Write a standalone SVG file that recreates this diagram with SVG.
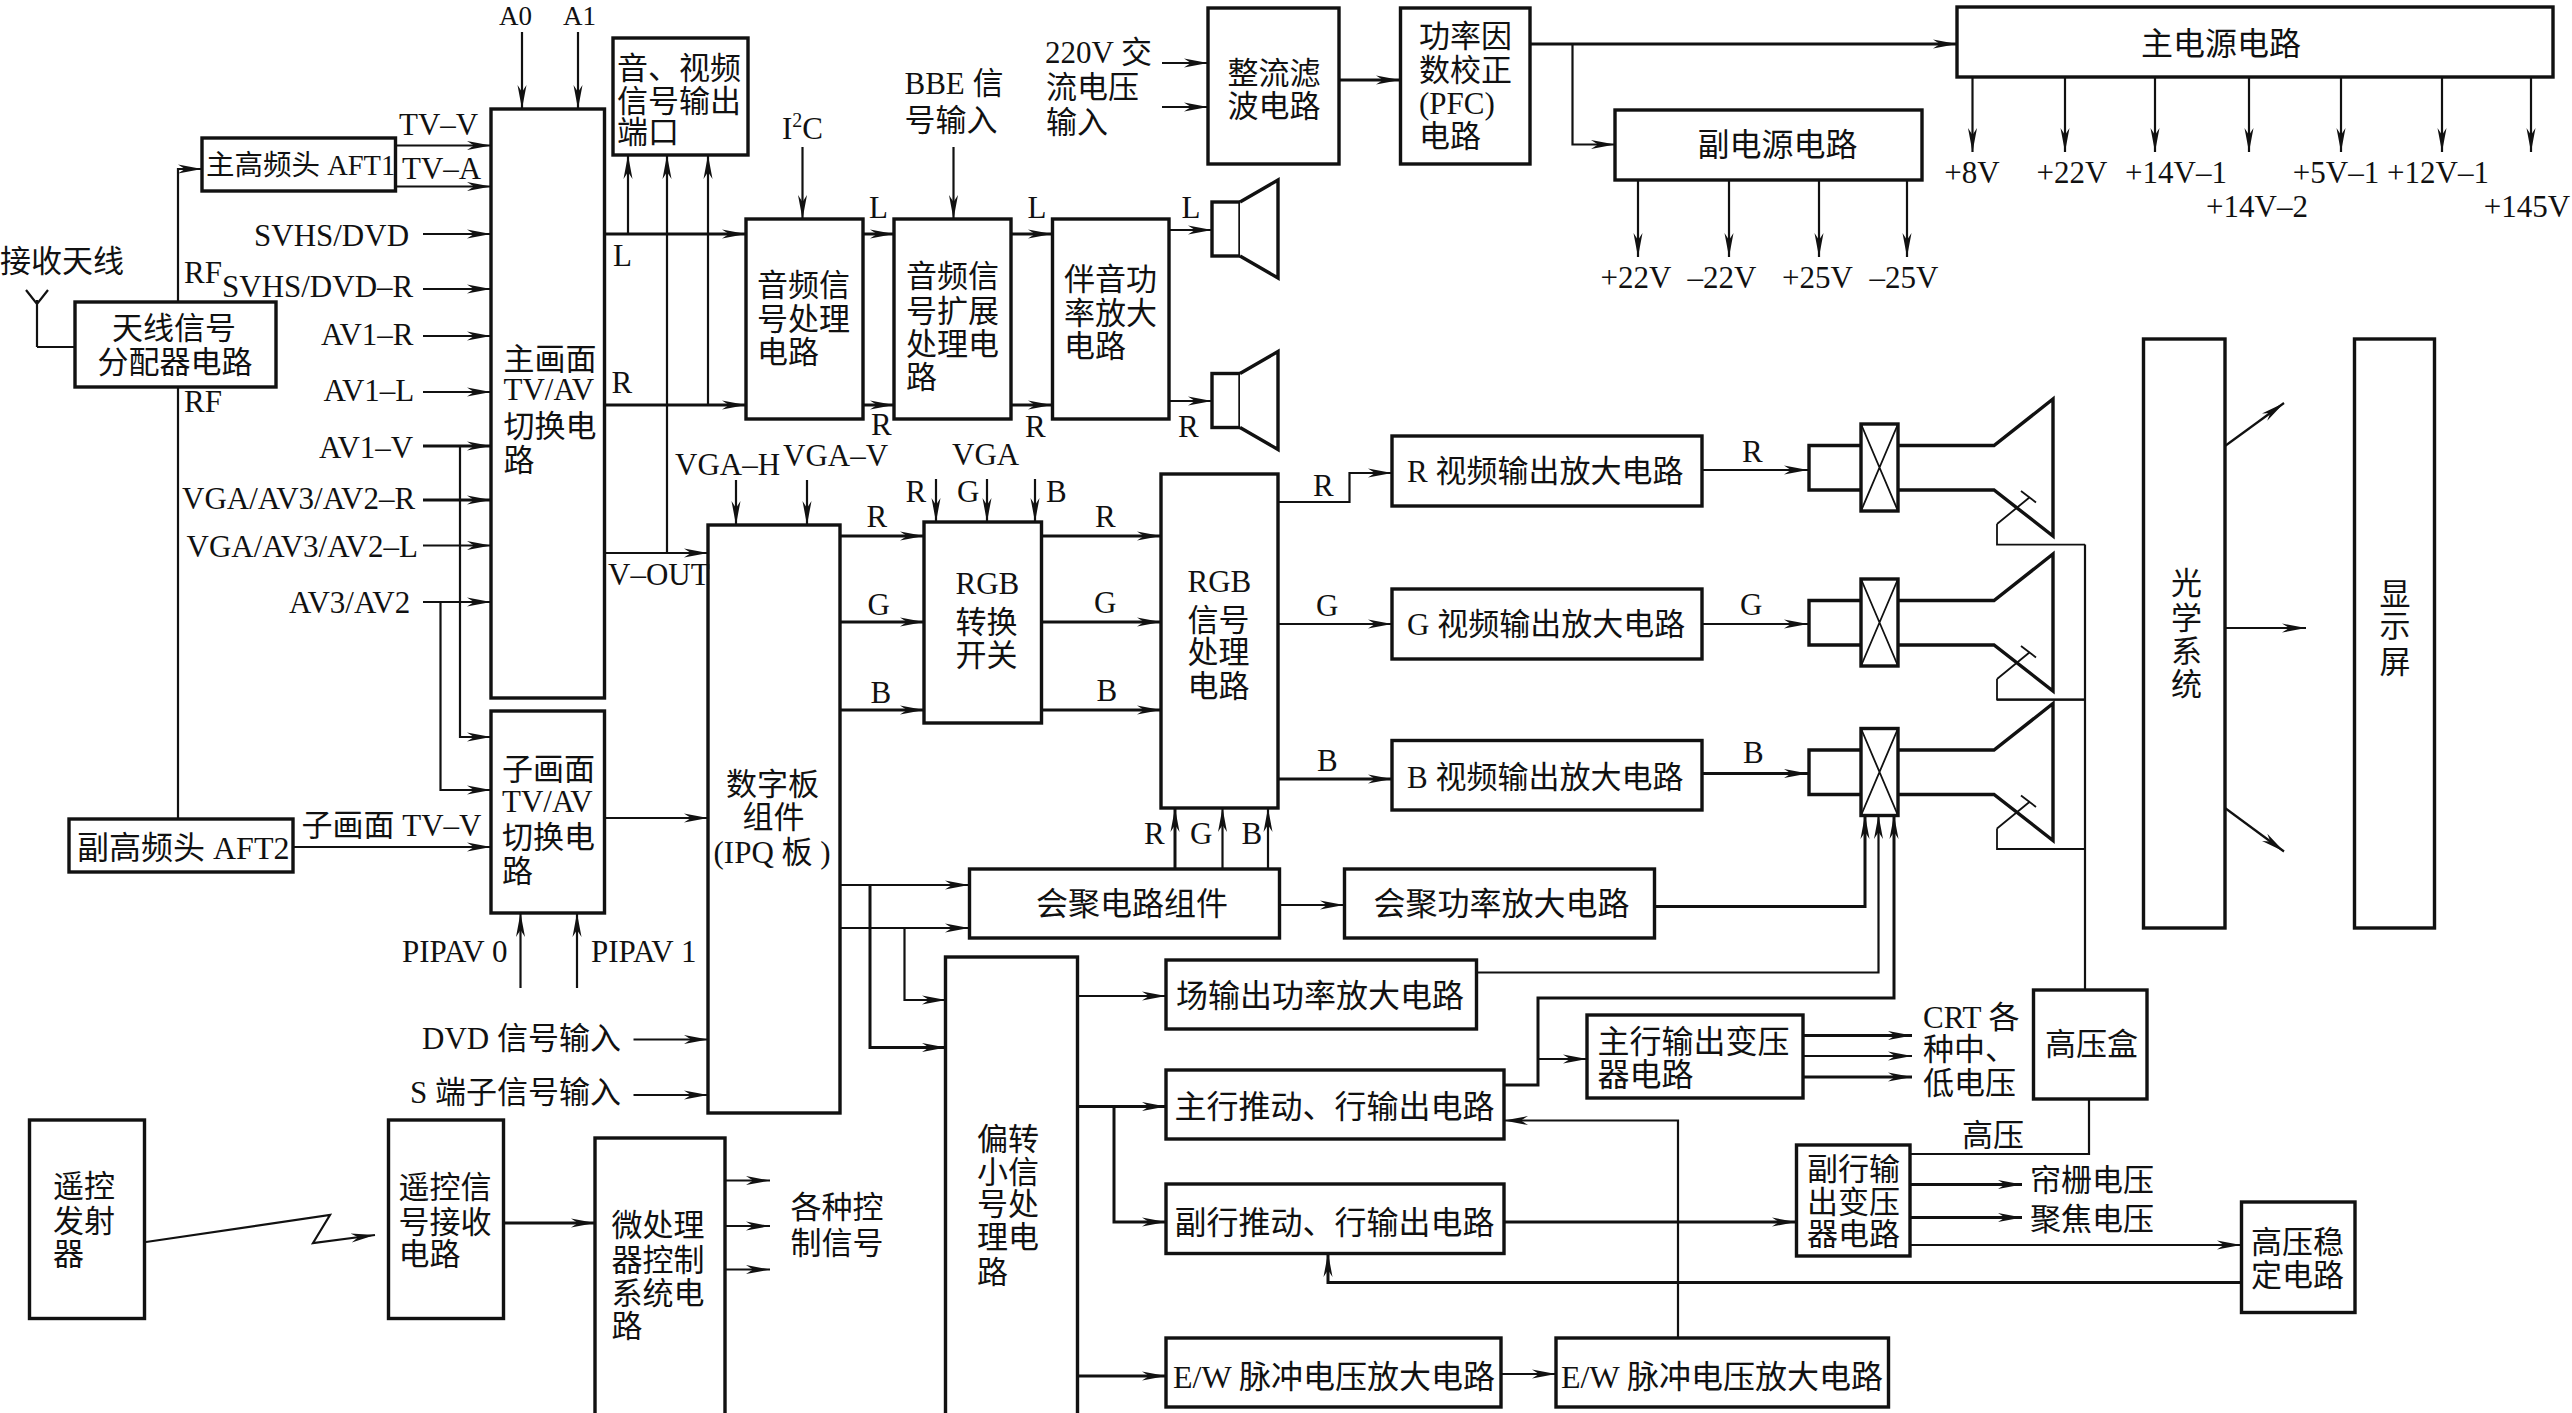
<svg xmlns="http://www.w3.org/2000/svg" width="2572" height="1413" viewBox="0 0 2572 1413">
<style>
text{font-family:"Liberation Serif","Noto Sans CJK SC",serif;font-size:31px;fill:#111}
.s{font-size:28.5px}
.b{font-size:32px}
.m{font-size:27px}
rect{fill:#fff;stroke:#111;stroke-width:3.4}
.c path{fill:none;stroke:#111;stroke-width:2.2}
.c path.a{marker-end:url(#ah)}
.c path.k{stroke-width:3}
.sym{fill:#fff;stroke:#111;stroke-width:3.4}
.thin{fill:none;stroke:#111;stroke-width:1.8}
</style>
<defs>
<marker id="ah" markerUnits="userSpaceOnUse" markerWidth="26" markerHeight="12" refX="24" refY="6" orient="auto"><path d="M0,1.5 L24,6 L0,10.5 L7,6 Z" fill="#111"/></marker>
<g id="crt">
<path class="thin" d="M1997,524 L2030,497 M2021,491 L2036,502.5 M1997,524 V544.6 H2085"/>
<path fill="none" stroke="#111" stroke-width="3.4" d="M1861,445.5 H1809 V490 H1861 M1898,445.5 H1994 L2053,399 V536 L1994,490 H1898"/>
<rect x="1861" y="424" width="37" height="87"/>
<path class="thin" d="M1861,424 L1898,511 M1898,424 L1861,511"/>
</g>
<g id="spk"><rect x="1212" y="202" width="28" height="54"/><path class="sym" d="M1240,202 L1278,180 V278 L1240,256"/></g>
</defs>
<rect width="2572" height="1413" style="fill:#fff;stroke:none"/>
<g id="connectors" class="c">
<path class="l" d="M37,347 V300 M26,290 L37,304 L48,290 M37,347 H75"/>
<path class="a" d="M178,819 V169 H202"/>
<path class="a" d="M396,145.5 H491"/><path class="a" d="M396,186.5 H491"/>
<path class="a" d="M423,234 H491"/><path class="a" d="M423,289 H491"/><path class="a" d="M423,336 H491"/><path class="a" d="M423,392 H491"/><path class="a k" d="M423,446 H491"/><path class="a k" d="M423,500 H491"/><path class="a" d="M423,545.5 H491"/><path class="a" d="M423,602 H491"/>
<path class="a" d="M460,446 V737 H491"/><path class="a" d="M440.5,602 V790 H491"/>
<path class="a" d="M522,32 V109"/><path class="a" d="M578,32 V109"/>
<path class="a k" d="M605,234 H746"/><path class="a k" d="M605,405 H746"/>
<path class="a" d="M628,234 V155"/><path class="a" d="M708,405 V155"/>
<path class="a" d="M667,553 V155"/><path class="a" d="M605,553 H708"/>
<path class="a" d="M802.5,147 V219"/><path class="a" d="M953.5,147 V219"/>
<path class="a k" d="M863,234 H894"/><path class="a k" d="M863,405 H894"/><path class="a k" d="M1011,234 H1052"/><path class="a k" d="M1011,405 H1052"/>
<path class="a" d="M1169,230 H1212"/><path class="a" d="M1169,401 H1212"/>
<path class="a" d="M1162,63 H1208"/><path class="a" d="M1162,107 H1208"/>
<path class="a k" d="M1339,80 H1400"/>
<path class="a k" d="M1530,44 H1957"/><path class="a" d="M1572.5,44 V144.5 H1615"/>
<path class="a" d="M1972.5,77 V152"/><path class="a" d="M2065,77 V152"/><path class="a" d="M2155,77 V152"/><path class="a" d="M2249,77 V152"/><path class="a" d="M2341,77 V152"/><path class="a" d="M2442,77 V152"/><path class="a" d="M2531,77 V152"/>
<path class="a" d="M1638,180 V257"/><path class="a" d="M1729,180 V257"/><path class="a" d="M1819,180 V257"/><path class="a" d="M1907,180 V257"/>
<path class="a" d="M736,480 V525"/><path class="a" d="M807,480 V525"/>
<path class="a" d="M936,479 V522"/><path class="a" d="M987,479 V522"/><path class="a" d="M1035,479 V522"/>
<path class="a k" d="M840,536 H924"/><path class="a k" d="M840,622 H924"/><path class="a k" d="M840,710 H924"/>
<path class="a k" d="M1042,536 H1161"/><path class="a k" d="M1042,622 H1161"/><path class="a k" d="M1042,710 H1161"/>
<path class="a" d="M1278,502 H1349.5 V473 H1392"/><path class="a" d="M1278,624 H1392"/><path class="a k" d="M1278,779 H1392"/>
<path class="a" d="M1702,470 H1808"/><path class="a" d="M1702,624 H1808"/><path class="a k" d="M1702,773.5 H1808"/>
<path class="a k" d="M1175,869 V808"/><path class="a" d="M1222.5,869 V808"/><path class="a" d="M1268,869 V808"/>
<path class="a" d="M605,818 H708"/><path class="a" d="M293,847 H491"/>
<path class="a" d="M520.5,988 V913"/><path class="a" d="M577,988 V913"/>
<path class="a" d="M633.5,1039.5 H708"/><path class="a" d="M633.5,1095 H708"/>
<path class="a" d="M840,885 H969"/><path class="a" d="M840,928 H969"/>
<path class="a k" d="M870,885 V1047.5 H946"/><path class="a" d="M904.5,928 V1000 H946"/>
<path class="a" d="M1280,905 H1344"/>
<path class="k a" d="M1655,906.5 H1865 V815"/>
<path class="a" d="M1476.5,972.5 H1878.5 V815"/>
<path class="k a" d="M1504,1085 H1538 V998 H1894 V815"/>
<path class="a" d="M1538,1059 H1587"/>
<path class="a" d="M1078,996 H1166"/>
<path class="a k" d="M1078,1106.5 H1166"/><path class="a k" d="M1114,1106.5 V1222 H1166"/>
<path class="a k" d="M1078,1376 H1166"/><path class="a" d="M1501,1374 H1556"/>
<path class="a" d="M1678,1338 V1120.5 H1504"/>
<path class="a k" d="M1504,1222 H1796"/>
<path class="a k" d="M1803,1035.5 H1912"/><path class="a" d="M1803,1056 H1912"/><path class="a k" d="M1803,1077 H1912"/>
<path class="l" d="M2085,544.6 V990"/><path class="l" d="M2085,699.6 H1997"/><path class="l" d="M2085,849 H1997"/>
<path class="l" d="M2089,1099 V1154 H1910"/>
<path class="a k" d="M1910,1184.5 H2022"/><path class="a k" d="M1910,1217.5 H2022"/>
<path class="a" d="M1910,1245 H2241"/>
<path class="a k" d="M2241,1282.5 H1328 V1253"/>
<path class="a" d="M146,1242 L330,1215 L313,1243 L375,1235"/>
<path class="a k" d="M504,1223 H595"/>
<path class="a" d="M725,1180.5 H770"/><path class="a" d="M725,1226 H770"/><path class="a" d="M725,1269.5 H770"/>
<path class="a" d="M2225,446 L2284,403"/><path class="a" d="M2225,628 H2306"/><path class="a" d="M2225,808 L2284,851.5"/>
</g>
<g id="n-antenna"><rect x="75" y="302" width="201" height="85"/><text x="112" y="339">天线信号</text><text x="97.5" y="373">分配器电路</text></g>
<g id="n-tuner1"><rect x="202" y="138" width="193.5" height="53"/><text class="s" x="206" y="175">主高频头 AFT1</text></g>
<g id="n-tuner2"><rect x="69" y="819" width="224" height="53"/><text class="b" x="77" y="858.5">副高频头 AFT2</text></g>
<g id="n-main-switch"><rect x="491" y="109" width="113.5" height="589"/><text x="503.5" y="369.5">主画面</text><text x="503.5" y="399.5">TV/AV</text><text x="503.5" y="436.5">切换电</text><text x="503.5" y="471">路</text></g>
<g id="n-sub-switch"><rect x="491" y="711" width="113.5" height="202"/><text x="502" y="780">子画面</text><text x="502" y="811.5">TV/AV</text><text x="502" y="848">切换电</text><text x="502" y="882">路</text></g>
<g id="n-av-out"><rect x="613" y="38" width="135" height="117"/><text x="617" y="78.5">音、视频</text><text x="617" y="111.5">信号输出</text><text x="617" y="143">端口</text></g>
<g id="n-audio"><rect x="746" y="219" width="117" height="200"/><text x="757" y="296">音频信</text><text x="757" y="329.5">号处理</text><text x="757" y="362.5">电路</text></g>
<g id="n-audio-ext"><rect x="894" y="219" width="117" height="200"/><text x="906" y="287">音频信</text><text x="906" y="321.5">号扩展</text><text x="906" y="355">处理电</text><text x="906" y="388">路</text></g>
<g id="n-audio-amp"><rect x="1052.5" y="219" width="116.5" height="200"/><text x="1064" y="290">伴音功</text><text x="1064" y="324">率放大</text><text x="1064" y="357">电路</text></g>
<g id="n-spk-l"><use href="#spk"/></g>
<g id="n-spk-r"><use href="#spk" y="171.5"/></g>
<g id="n-rectifier"><rect x="1208" y="8" width="131" height="156"/><text x="1227.5" y="84">整流滤</text><text x="1227.5" y="117">波电路</text></g>
<g id="n-pfc"><rect x="1400.5" y="8" width="129.5" height="156"/><text x="1419" y="46.5">功率因</text><text x="1419" y="81">数校正</text><text x="1419" y="114">(PFC)</text><text x="1419" y="147">电路</text></g>
<g id="n-main-psu"><rect x="1957" y="7" width="596" height="70"/><text class="b" x="2141" y="55">主电源电路</text></g>
<g id="n-sub-psu"><rect x="1615" y="110" width="307" height="70"/><text class="b" x="1697.5" y="155.5">副电源电路</text></g>
<g id="n-digital"><rect x="708" y="525" width="132" height="588"/><text x="726" y="795">数字板</text><text x="742.5" y="828">组件</text><text x="713.5" y="863">(IPQ 板 )</text></g>
<g id="n-rgb-sw"><rect x="924" y="522" width="117.5" height="201"/><text x="955.5" y="594">RGB</text><text x="955.5" y="632.5">转换</text><text x="955.5" y="666">开关</text></g>
<g id="n-rgb-proc"><rect x="1161" y="474" width="117" height="334"/><text x="1187.5" y="591.5">RGB</text><text x="1187.5" y="630.5">信号</text><text x="1187.5" y="662.5">处理</text><text x="1187.5" y="696.5">电路</text></g>
<g id="n-r-amp"><rect x="1392" y="436" width="310" height="70"/><text x="1407" y="482">R 视频输出放大电路</text></g>
<g id="n-g-amp"><rect x="1392" y="589" width="310" height="70"/><text x="1407" y="635">G 视频输出放大电路</text></g>
<g id="n-b-amp"><rect x="1392" y="740.5" width="310" height="69.5"/><text x="1407" y="788">B 视频输出放大电路</text></g>
<g id="n-crt-r"><use href="#crt"/></g>
<g id="n-crt-g"><use href="#crt" y="155"/></g>
<g id="n-crt-b"><use href="#crt" y="304.5"/></g>
<g id="n-optics"><rect x="2143.5" y="339" width="81.5" height="589"/><text x="2171" y="594">光</text><text x="2171" y="629">学</text><text x="2171" y="662">系</text><text x="2171" y="694.5">统</text></g>
<g id="n-screen"><rect x="2354.5" y="339" width="80" height="589"/><text x="2379.5" y="604.5">显</text><text x="2379.5" y="637">示</text><text x="2379.5" y="673">屏</text></g>
<g id="n-conv"><rect x="969.5" y="869" width="310" height="69"/><text class="b" x="1036" y="915">会聚电路组件</text></g>
<g id="n-conv-amp"><rect x="1344.5" y="869" width="310" height="69"/><text class="b" x="1373.5" y="915">会聚功率放大电路</text></g>
<g id="n-deflect"><rect x="945.5" y="957" width="132" height="460"/><text x="977" y="1150">偏转</text><text x="977" y="1182.5">小信</text><text x="977" y="1215">号处</text><text x="977" y="1248">理电</text><text x="977" y="1283">路</text></g>
<g id="n-vout"><rect x="1166" y="960" width="310.5" height="69"/><text class="b" x="1176" y="1007">场输出功率放大电路</text></g>
<g id="n-hdrive1"><rect x="1166" y="1070" width="338" height="69"/><text class="b" x="1174.5" y="1117.5">主行推动、行输出电路</text></g>
<g id="n-hdrive2"><rect x="1166" y="1184" width="338" height="69.5"/><text class="b" x="1174.5" y="1233.5">副行推动、行输出电路</text></g>
<g id="n-ew1"><rect x="1166" y="1338" width="335" height="69"/><text class="b" x="1173" y="1388">E/W 脉冲电压放大电路</text></g>
<g id="n-ew2"><rect x="1556" y="1338" width="332.5" height="69"/><text class="b" x="1561" y="1388">E/W 脉冲电压放大电路</text></g>
<g id="n-ht1"><rect x="1587" y="1015" width="216" height="83"/><text class="b" x="1597.5" y="1053">主行输出变压</text><text class="b" x="1597.5" y="1086">器电路</text></g>
<g id="n-hvbox"><rect x="2033.5" y="990" width="113.5" height="109"/><text x="2045" y="1054.5">高压盒</text></g>
<g id="n-ht2"><rect x="1796.5" y="1145" width="113.5" height="111"/><text x="1807" y="1179.5">副行输</text><text x="1807" y="1212.5">出变压</text><text x="1807" y="1245">器电路</text></g>
<g id="n-hvreg"><rect x="2241.5" y="1202" width="113.5" height="110.5"/><text x="2251" y="1253">高压稳</text><text x="2251" y="1286">定电路</text></g>
<g id="n-remote"><rect x="29.5" y="1120" width="115" height="198.5"/><text x="53" y="1196.5">遥控</text><text x="53" y="1231.5">发射</text><text x="53" y="1264.5">器</text></g>
<g id="n-ir"><rect x="388.5" y="1120" width="115" height="198.5"/><text x="398.5" y="1198">遥控信</text><text x="398.5" y="1232.5">号接收</text><text x="398.5" y="1265">电路</text></g>
<g id="n-mcu"><rect x="595" y="1138" width="130" height="279"/><text x="611.5" y="1236">微处理</text><text x="611.5" y="1271">器控制</text><text x="611.5" y="1304">系统电</text><text x="611.5" y="1337">路</text></g>
<g id="labels">
<text class="m" x="499" y="25">A0</text><text class="m" x="563" y="25">A1</text>
<text x="0" y="272">接收天线</text>
<text x="184" y="282.5">RF</text><text x="184" y="411.5">RF</text>
<text x="399" y="135">TV–V</text><text x="402" y="178.5">TV–A</text>
<text x="254" y="245.5">SVHS/DVD</text><text x="222" y="297">SVHS/DVD–R</text>
<text x="321" y="344.5">AV1–R</text><text x="323.5" y="401">AV1–L</text><text x="319" y="457.5">AV1–V</text>
<text x="182" y="509">VGA/AV3/AV2–R</text><text x="186.5" y="557">VGA/AV3/AV2–L</text><text x="289" y="612.5">AV3/AV2</text>
<text x="613" y="265.5">L</text><text x="611.5" y="393">R</text>
<text x="782" y="138.5">I<tspan font-size="20" dy="-12">2</tspan><tspan dy="12">C</tspan></text>
<text x="904.5" y="94">BBE 信</text><text x="904.5" y="130.5">号输入</text>
<text x="1045" y="63">220V 交</text><text x="1046" y="98">流电压</text><text x="1046" y="132.5">输入</text>
<text x="869" y="218">L</text><text x="1027.5" y="218">L</text><text x="1181.5" y="218">L</text>
<text x="871" y="434.5">R</text><text x="1025" y="436.5">R</text><text x="1178" y="436.5">R</text>
<text x="1972" y="183" text-anchor="middle">+8V</text><text x="2072" y="183" text-anchor="middle">+22V</text><text x="2176" y="183" text-anchor="middle">+14V–1</text><text x="2257" y="217" text-anchor="middle">+14V–2</text><text x="2336" y="183" text-anchor="middle">+5V–1</text><text x="2438" y="183" text-anchor="middle">+12V–1</text><text x="2527" y="217" text-anchor="middle">+145V</text>
<text x="1636" y="288" text-anchor="middle">+22V</text><text x="1722" y="288" text-anchor="middle">–22V</text><text x="1817.5" y="288" text-anchor="middle">+25V</text><text x="1904" y="288" text-anchor="middle">–25V</text>
<text x="675" y="475">VGA–H</text><text x="783" y="466">VGA–V</text><text x="608" y="585">V–OUT</text><text x="952" y="465">VGA</text>
<text x="905.5" y="502">R</text><text x="957" y="502">G</text><text x="1046" y="502">B</text>
<text x="866.5" y="527">R</text><text x="867.5" y="615">G</text><text x="870.5" y="703">B</text>
<text x="1095" y="527">R</text><text x="1094" y="613">G</text><text x="1096.5" y="701">B</text>
<text x="1313" y="496">R</text><text x="1316" y="615.5">G</text><text x="1317" y="771">B</text>
<text x="1144" y="844">R</text><text x="1190" y="844">G</text><text x="1241.5" y="844">B</text>
<text x="1742" y="462">R</text><text x="1740" y="615">G</text><text x="1743" y="763">B</text>
<text x="301.5" y="835.5">子画面 TV–V</text>
<text x="402" y="961.5">PIPAV 0</text><text x="591" y="961.5">PIPAV 1</text>
<text x="422" y="1049">DVD 信号输入</text><text x="410" y="1103">S 端子信号输入</text>
<text x="790.5" y="1217.5">各种控</text><text x="790.5" y="1253.5">制信号</text>
<text x="1923" y="1027.5">CRT 各</text><text x="1923" y="1060">种中、</text><text x="1923" y="1094">低电压</text>
<text x="1962" y="1146">高压</text>
<text x="2030" y="1191">帘栅电压</text><text x="2030" y="1229.5">聚焦电压</text>
</g>
</svg>
